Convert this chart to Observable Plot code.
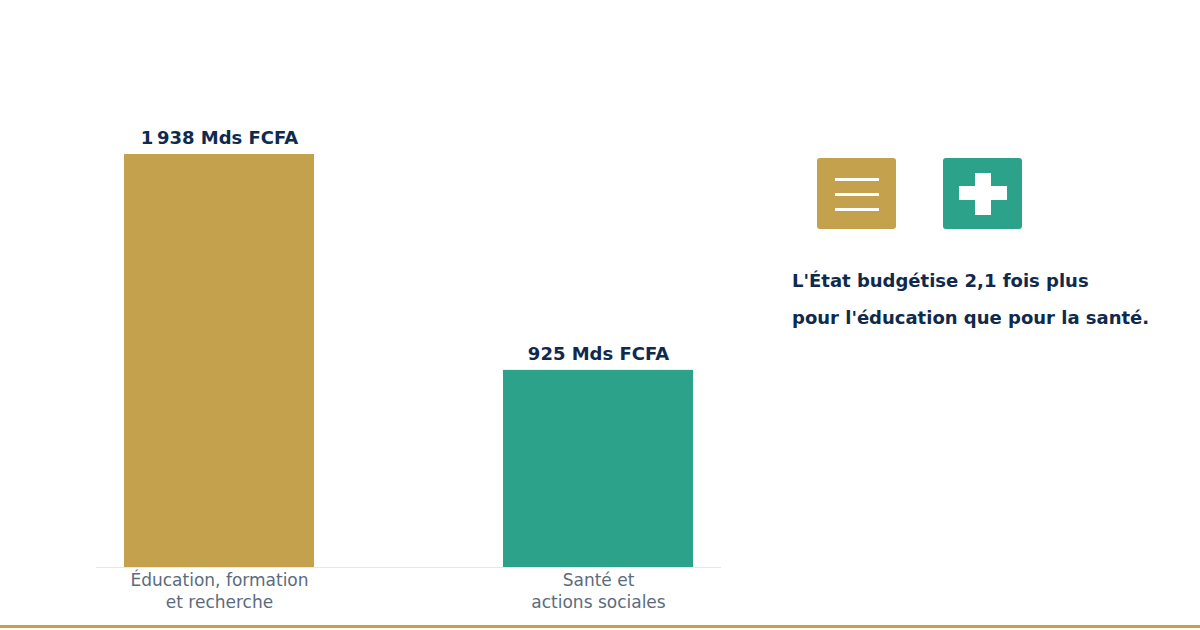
<!DOCTYPE html>
<html lang="fr">
<head>
<meta charset="utf-8">
<script src="https://cdn.jsdelivr.net/npm/d3@7"></script>
<script src="https://cdn.jsdelivr.net/npm/@observablehq/plot@0.6"></script>
<style>
html,body{margin:0;padding:0;background:#fff;overflow:hidden}
#wrap{position:relative;width:1200px;height:630px;font-family:"DejaVu Sans",sans-serif}
#chart{position:absolute;left:0;top:0}
#chart svg{display:block}
.icon{position:absolute;top:158px;width:79px;height:71px;border-radius:3px}
.icon i{position:absolute;background:#fff;display:block}
#note{position:absolute;left:792px;top:262px;font-weight:700;font-size:18px;line-height:37px;color:#0f2a4d;white-space:nowrap}
#foot{position:absolute;left:0;top:625px;width:1200px;height:3px;background:#c4a24d}
</style>
</head>
<body>
<div id="wrap">
<div id="chart"></div>
<div class="icon" style="left:817px;background:#c4a24d">
<i style="left:18px;top:20px;width:44px;height:3px"></i>
<i style="left:18px;top:35px;width:44px;height:3px"></i>
<i style="left:18px;top:50px;width:44px;height:3px"></i>
</div>
<div class="icon" style="left:943px;background:#2ca28b">
<i style="left:32px;top:15px;width:16px;height:42px"></i>
<i style="left:16px;top:28px;width:48px;height:14px"></i>
</div>
<div id="note">L'État budgétise 2,1 fois plus<br>pour l'éducation que pour la santé.</div>
<div id="foot"></div>
</div>
<script>
const categories = ["Éducation, formation\net recherche", "Santé et\nactions sociales"];
const values = [1938, 925];
const valueLabels = ["1\u202f938 Mds FCFA", "925 Mds FCFA"];
const colors = ["#c4a24d", "#2ca28b"];
const rows = categories.map((c, i) => ({c, v: values[i], l: valueLabels[i], k: colors[i]}));

const plot = Plot.plot({
  width: 1200, height: 630,
  marginLeft: 96, marginRight: 479, marginTop: 154, marginBottom: 63,
  style: {background: "transparent", fontFamily: '"DejaVu Sans", sans-serif'},
  x: {domain: categories, paddingInner: 0.5, paddingOuter: 0.074, label: null},
  y: {domain: [0, 1938], axis: null, label: null},
  marks: [
    Plot.barY(rows, {x: "c", y: "v", fill: "k"}),
    Plot.ruleY([0], {stroke: "#e5e7eb", strokeWidth: 1}),
    Plot.text(rows, {x: "c", y: "v", text: "l", dy: -16, fill: "#0f2a4d", fontSize: 18, fontWeight: 700}),
    Plot.axisX({tickSize: 0, tickPadding: 4, fontSize: 17, color: "#5b6b7d", label: null, lineHeight: 1.24})
  ]
});
document.getElementById("chart").append(plot);
</script>
</body>
</html>
